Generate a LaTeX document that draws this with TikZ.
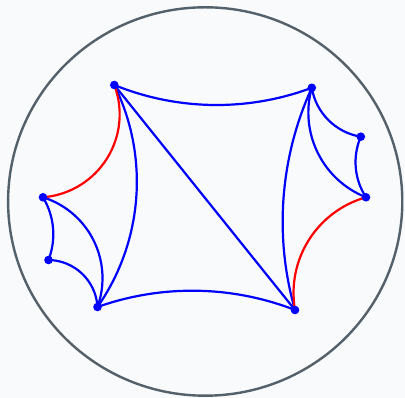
\documentclass[tikz,border=0pt]{standalone}
\definecolor{bgc}{RGB}{249,250,251}
\definecolor{rimc}{RGB}{84,96,106}
\definecolor{geoblue}{RGB}{0,0,255}
\definecolor{geored}{RGB}{255,0,0}
\tikzset{
  rim/.style={draw=rimc, line width=2.4pt},
  bluearc/.style={draw=geoblue, line width=2.2pt},
  redarc/.style={draw=geored, line width=2.2pt},
  vdot/.style={circle, fill=geoblue, inner sep=0pt, minimum size=8.6pt}
}
\newcommand\defpt[3]{%
  \expandafter\def\csname gpx#1\endcsname{#2}%
  \expandafter\def\csname gpy#1\endcsname{#3}%
  \coordinate (#1) at (#2,#3);}
% arc from #1 to #2 through the point (#3,#4), style #5
\newcommand\arcthree[5]{%
  \pgfmathsetmacro\ax{\csname gpx#1\endcsname}%
  \pgfmathsetmacro\ay{\csname gpy#1\endcsname}%
  \pgfmathsetmacro\cx{\csname gpx#2\endcsname}%
  \pgfmathsetmacro\cy{\csname gpy#2\endcsname}%
  \pgfmathsetmacro\bx{#3}%
  \pgfmathsetmacro\by{#4}%
  \pgfmathsetmacro\sa{\ax*\ax+\ay*\ay}%
  \pgfmathsetmacro\sb{\bx*\bx+\by*\by}%
  \pgfmathsetmacro\sc{\cx*\cx+\cy*\cy}%
  \pgfmathsetmacro\dd{2*(\ax*(\by-\cy)+\bx*(\cy-\ay)+\cx*(\ay-\by))}%
  \pgfmathsetmacro\ux{(\sa*(\by-\cy)+\sb*(\cy-\ay)+\sc*(\ay-\by))/\dd}%
  \pgfmathsetmacro\uy{(\sa*(\cx-\bx)+\sb*(\ax-\cx)+\sc*(\bx-\ax))/\dd}%
  \pgfmathsetmacro\rr{sqrt((\ax-\ux)*(\ax-\ux)+(\ay-\uy)*(\ay-\uy))}%
  \pgfmathsetmacro\angs{atan2(\ay-\uy,\ax-\ux)}%
  \pgfmathsetmacro\ange{atan2(\cy-\uy,\cx-\ux)}%
  \pgfmathsetmacro\dl{\ange-\angs}%
  \pgfmathsetmacro\dl{(\dl>180) ? (\dl-360) : ((\dl<-180) ? (\dl+360) : \dl)}%
  \draw[#5] (#1) arc[start angle=\angs, delta angle=\dl, radius=\rr];}
\begin{document}
\begin{tikzpicture}[x=100pt,y=100pt]
\fill[bgc] (-205.2pt,-196.5pt) rectangle (199.8pt,201.5pt);
\useasboundingbox (-205.2pt,-196.5pt) rectangle (199.8pt,201.5pt);
\draw[rim] (0,0) ellipse[x radius=1.971, y radius=1.942];
\defpt{A}{-0.909}{1.165}
\defpt{B}{1.066}{1.137}
\defpt{C}{1.556}{0.648}
\defpt{D}{1.608}{0.042}
\defpt{E}{0.898}{-1.085}
\defpt{F}{-1.077}{-1.055}
\defpt{G}{-1.567}{-0.585}
\defpt{H}{-1.622}{0.042}
\arcthree{A}{B}{0.148}{0.965}{bluearc}
\arcthree{A}{F}{-0.685}{0.115}{bluearc}
\draw[bluearc] (A) -- (E);
\arcthree{B}{E}{0.775}{-0.155}{bluearc}
\arcthree{B}{C}{1.231}{0.815}{bluearc}
\arcthree{B}{D}{1.098}{0.548}{bluearc}
\arcthree{C}{D}{1.508}{0.315}{bluearc}
\arcthree{E}{F}{-0.122}{-0.892}{bluearc}
\arcthree{F}{H}{-1.102}{-0.418}{bluearc}
\arcthree{F}{G}{-1.202}{-0.752}{bluearc}
\arcthree{G}{H}{-1.519}{-0.318}{bluearc}
\arcthree{A}{H}{-0.952}{0.482}{redarc}
\arcthree{D}{E}{0.981}{-0.485}{redarc}
\foreach \p in {A,B,C,D,E,F,G,H} \node[vdot] (n\p) at (\p) {};
\end{tikzpicture}
\end{document}
